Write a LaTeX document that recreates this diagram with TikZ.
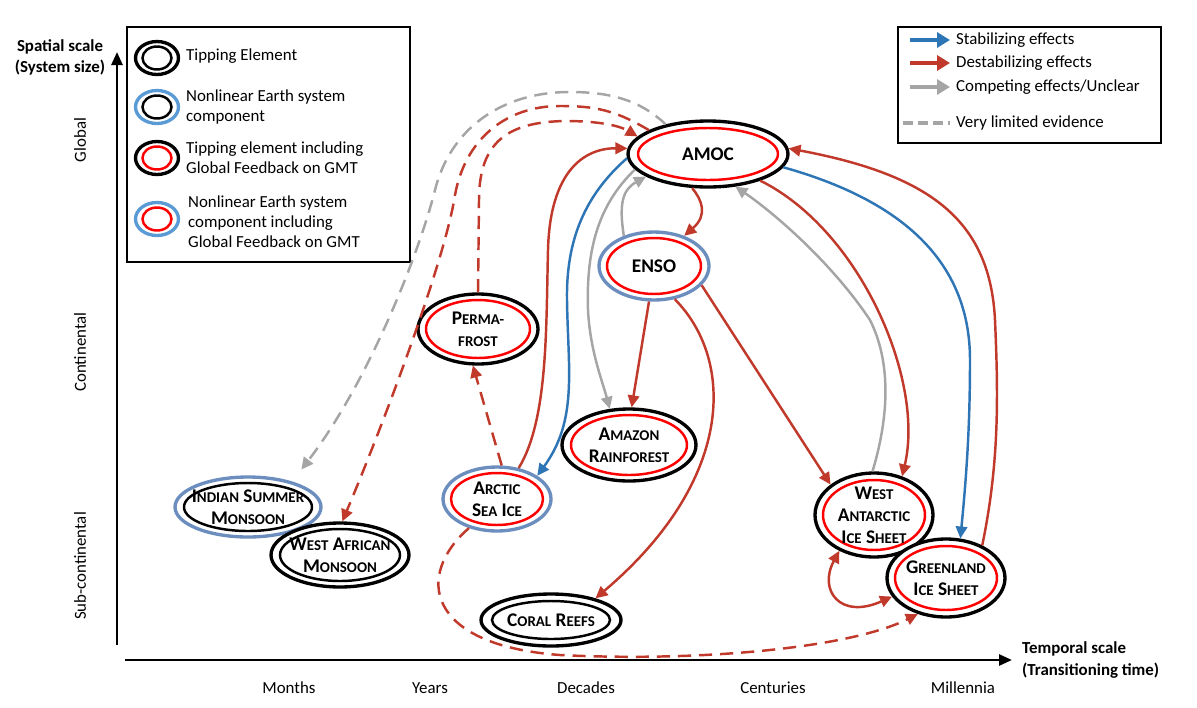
\documentclass[tikz,border=0pt]{standalone}
\usepackage{fontspec}
\setmainfont{Carlito}
\usepackage{xcolor}
\definecolor{Ink}{HTML}{000000}
\definecolor{Stab}{HTML}{2E75B6}
\definecolor{Destab}{HTML}{C0392B}
\definecolor{Unclear}{HTML}{A5A5A5}
\definecolor{GmtRed}{HTML}{FF0000}
\definecolor{RingBlue}{HTML}{6C8EBF}
\definecolor{KeyBlue}{HTML}{5B9BD5}
\usepackage{tikz}
\usetikzlibrary{arrows.meta,shapes.geometric}
\newcommand{\fsc}[1]{{\fontsize{8.5}{10}\selectfont #1}}
\tikzset{
  tip/.style={ellipse,draw=Ink,line width=1.9pt,fill=white,inner sep=0pt},
  nes/.style={tip,draw=RingBlue},
  keynes/.style={tip,draw=KeyBlue},
  core/.style={ellipse,draw=Ink,line width=1.4pt,inner sep=0pt},
  gmt/.style={core,draw=GmtRed},
  eltext/.style={align=center,text=Ink,inner sep=0pt,font=\fontsize{11}{12.5}\selectfont\bfseries},
  key/.style={anchor=west,align=left,text=Ink,font=\fontsize{9.6}{11.3}\selectfont},
  keybox/.style={draw=Ink,line width=1.2pt,fill=white,inner sep=0pt,anchor=north west},
  link/.style={line width=1.4pt,-{Triangle[length=2.4mm,width=2.3mm]}},
  stab/.style={link,draw=Stab},
  destab/.style={link,draw=Destab},
  unclear/.style={link,draw=Unclear},
  weak/.style={dash pattern=on 7.5pt off 4.5pt},
  keyarrow/.style={line width=2.2pt,-{Triangle[length=2.6mm,width=3mm]}},
  axis/.style={line width=1.5pt,draw=Ink,-{Triangle[length=2.6mm,width=2.2mm]}},
  axisname/.style={font=\fontsize{9.6}{12}\selectfont\bfseries,text=Ink,align=center},
  scalename/.style={font=\fontsize{9.6}{12}\selectfont,text=Ink}
}
\begin{document}
\begin{tikzpicture}[x=0.02cm,y=-0.02cm]
\useasboundingbox (0,0) rectangle (1197,707);
\coordinate (yfoot) at (117,645);
\coordinate (yhead) at (117,52);
\coordinate (xfoot) at (125,660);
\coordinate (xhead) at (1012,660);
\draw[axis] (yfoot) -- (yhead);
\draw[axis] (xfoot) -- (xhead);
\node[axisname] (ylab) at (60,57) {Spatial scale\\(System size)};
\node[axisname,anchor=west,align=left] (xlab) at (1016,660) {Temporal scale\\(Transitioning time)};
\node[scalename,rotate=90] (global) at (80,140) {Global};
\node[scalename,rotate=90] (continental) at (80,352) {Continental};
\node[scalename,rotate=90] (subcont) at (80,566) {Sub-continental};
\node[scalename] (months) at (289,688) {Months};
\node[scalename] (years) at (430,688) {Years};
\node[scalename] (decades) at (586,688) {Decades};
\node[scalename] (centuries) at (773,688) {Centuries};
\node[scalename] (millennia) at (963,688) {Millennia};

\node[keybox,minimum width=5.66cm,minimum height=4.7cm] (keyL) at (126,26) {};
\node[tip,minimum width=0.86cm,minimum height=0.66cm] (k1) at (157,58) {};
\node[core,minimum width=0.58cm,minimum height=0.46cm] at (k1) {};
\node[keynes,minimum width=0.86cm,minimum height=0.66cm] (k2) at (157,107) {};
\node[core,minimum width=0.58cm,minimum height=0.46cm] at (k2) {};
\node[tip,minimum width=0.86cm,minimum height=0.66cm] (k3) at (157,158) {};
\node[gmt,minimum width=0.58cm,minimum height=0.46cm] at (k3) {};
\node[keynes,minimum width=0.86cm,minimum height=0.66cm] (k4) at (157,219) {};
\node[gmt,minimum width=0.58cm,minimum height=0.46cm] at (k4) {};
\node[key] (k1t) at (180,56) {Tipping Element};
\node[key] (k2t) at (180,107) {Nonlinear Earth system\\component};
\node[key] (k3t) at (180,158) {Tipping element including\\Global Feedback on GMT};
\node[key] (k4t) at (182,222) {Nonlinear Earth system\\component including\\Global Feedback on GMT};

\node[keybox,minimum width=5.26cm,minimum height=2.32cm] (keyR) at (897,26) {};
\node[key] (s1) at (950,40) {Stabilizing effects};
\node[key] (s2) at (950,63) {Destabilizing effects};
\node[key] (s3) at (950,87) {Competing effects/Unclear};
\node[key] (s4) at (950,123) {Very limited evidence};
\coordinate (s1a) at (910,40);
\coordinate (s2a) at (910,63);
\coordinate (s3a) at (910,87);
\coordinate (s4a) at (903,123);
\draw[keyarrow,draw=Stab] (s1a) -- (s1.west);
\draw[keyarrow,draw=Destab] (s2a) -- (s2.west);
\draw[keyarrow,draw=Unclear] (s3a) -- (s3.west);
\draw[line width=2.2pt,draw=Unclear,dash pattern=on 5.5pt off 3pt] (s4a) -- (s4.west);

\node[tip,minimum width=3.2cm,minimum height=1.32cm] (amoc) at (708,154) {};
\node[gmt,minimum width=2.8cm,minimum height=1.04cm,label={[eltext]center:AMOC}] at (amoc) {};
\node[nes,minimum width=2.2cm,minimum height=1.36cm] (enso) at (654,266) {};
\node[gmt,minimum width=1.88cm,minimum height=1.12cm,label={[eltext]center:ENSO}] at (enso) {};
\node[tip,minimum width=2.4cm,minimum height=1.4cm] (perma) at (478,329) {};
\node[gmt,minimum width=2.08cm,minimum height=1.16cm,label={[eltext]center:{P\fsc{ERMA-}\\\fsc{FROST}}}] at (perma) {};
\node[tip,minimum width=2.68cm,minimum height=1.44cm] (amazon) at (629,445) {};
\node[gmt,minimum width=2.32cm,minimum height=1.2cm,label={[eltext]center:{A\fsc{MAZON}\\R\fsc{AINFOREST}}}] at (amazon) {};
\node[nes,minimum width=2.16cm,minimum height=1.28cm] (arctic) at (497,499) {};
\node[gmt,minimum width=1.84cm,minimum height=1.04cm,label={[eltext]center:{A\fsc{RCTIC}\\S\fsc{EA} I\fsc{CE}}}] at (arctic) {};
\node[nes,minimum width=2.92cm,minimum height=1.2cm] (ism) at (248,507) {};
\node[core,minimum width=2.56cm,minimum height=0.96cm,label={[eltext]center:{I\fsc{NDIAN} S\fsc{UMMER}\\M\fsc{ONSOON}}}] at (ism) {};
\node[tip,minimum width=2.76cm,minimum height=1.28cm] (wam) at (340,555) {};
\node[core,minimum width=2.4cm,minimum height=1.04cm,label={[eltext]center:{W\fsc{EST} A\fsc{FRICAN}\\M\fsc{ONSOON}}}] at (wam) {};
\node[tip,minimum width=2.36cm,minimum height=1.68cm] (wais) at (874,515) {};
\node[gmt,minimum width=2.04cm,minimum height=1.4cm,label={[eltext]center:{W\fsc{EST}\\A\fsc{NTARCTIC}\\I\fsc{CE} S\fsc{HEET}}}] at (wais) {};
\node[tip,minimum width=2.36cm,minimum height=1.56cm] (gis) at (946,578) {};
\node[gmt,minimum width=2.04cm,minimum height=1.28cm,label={[eltext]center:{G\fsc{REENLAND}\\I\fsc{CE} S\fsc{HEET}}}] at (gis) {};
\node[tip,minimum width=2.8cm,minimum height=1.04cm] (coral) at (551,620) {};
\node[core,minimum width=2.36cm,minimum height=0.76cm,label={[eltext]center:{C\fsc{ORAL} R\fsc{EEFS}}}] at (coral) {};

\draw[unclear,weak,shorten >=3mm] (amoc.145) .. controls (640,100) and (610,92) .. (570,92) .. controls (500,92) and (450,130) .. (435,190) .. controls (420,250) and (370,380) .. (ism.30);
\draw[destab,weak] (amoc.158) .. controls (615,110) and (595,106) .. (560,106) .. controls (505,106) and (465,140) .. (455,195) .. controls (445,260) and (385,420) .. (wam.86);
\draw[destab,weak] (perma.90) -- (479,200) .. controls (479,140) and (510,122) .. (565,121) .. controls (600,121) and (620,126) .. (amoc.166);
\draw[destab] (arctic.55) .. controls (548,420) and (546,330) .. (548,250) .. controls (550,170) and (585,148) .. (amoc.176);
\draw[stab] (amoc.183) .. controls (585,195) and (566,240) .. (567,300) .. controls (568,370) and (578,420) .. (arctic.30);
\draw[unclear] (amoc.192) .. controls (598,205) and (586,250) .. (588,310) .. controls (590,350) and (602,380) .. (amazon.118);
\draw[unclear] (enso.135) .. controls (619,205) and (622,190) .. (amoc.200);
\draw[destab] (amoc.245) .. controls (702,200) and (708,215) .. (enso.45);
\draw[destab] (enso.262) -- (amazon.86);
\draw[destab] (enso.302) .. controls (735,360) and (735,480) .. (coral.26);
\draw[destab] (enso.338) -- (wais.145);
\draw[destab] (amoc.333) .. controls (860,230) and (925,380) .. (wais.54);
\draw[unclear] (wais.92) .. controls (885,430) and (895,370) .. (870,320) .. controls (830,260) and (770,210) .. (amoc.310);
\draw[stab] (amoc.350) .. controls (900,200) and (970,260) .. (970,360) .. controls (970,430) and (966,480) .. (gis.70);
\draw[destab] (gis.42) .. controls (1000,460) and (998,390) .. (995,320) .. controls (990,220) and (930,175) .. (amoc.4);
\draw[destab,{Triangle[length=2.4mm,width=2.3mm]}-{Triangle[length=2.4mm,width=2.3mm]}] (gis.199) .. controls (840,620) and (818,590) .. (wais.226);
\draw[destab,weak] (arctic.226) .. controls (415,575) and (425,645) .. (560,655) .. controls (700,662) and (850,648) .. (gis.232);
\draw[destab,weak] (arctic.82) -- (perma.262);
\end{tikzpicture}
\end{document}
